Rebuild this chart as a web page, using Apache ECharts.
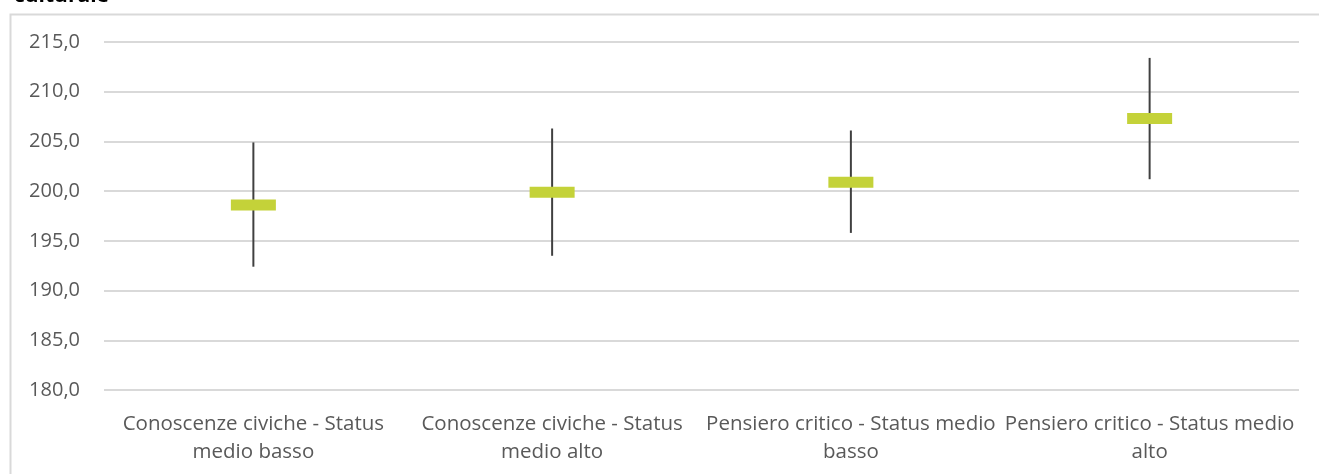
<!DOCTYPE html>
<html>
<head>
<meta charset="utf-8">
<script src="https://cdn.jsdelivr.net/npm/echarts@6/dist/echarts.min.js"></script>
<style>
  html, body { margin: 0; padding: 0; background: #fff; }
</style>
</head>
<body>
<div id="chart_status" style="width:1319px; height:474px"></div>
<script>
// categorie e valori
var categories = [
  "Conoscenze civiche - Status medio basso",
  "Conoscenze civiche - Status medio alto",
  "Pensiero critico - Status medio basso",
  "Pensiero critico - Status medio alto"
];
var tickLabels = [
  "Conoscenze civiche - Status\nmedio basso",
  "Conoscenze civiche - Status\nmedio alto",
  "Pensiero critico - Status medio\nbasso",
  "Pensiero critico - Status medio\nalto"
];
var meanValues = [198.6, 199.9, 200.9, 207.3];
var lowValues = [192.4, 193.5, 195.8, 201.2];
var highValues = [204.9, 206.3, 206.1, 213.4];

var fontName = "'Open Sans', 'Noto Sans', sans-serif";

var myChart = echarts.init(document.getElementById("chart_status"));

var whiskerData = categories.map(function (c, i) {
  return [i, lowValues[i], highValues[i]];
});

myChart.setOption({
  animation: false,
  title: {
    text: "culturale",
    left: 9,
    top: -19,
    textStyle: {
      fontFamily: fontName,
      fontSize: 21,
      fontWeight: "bold",
      color: "#000"
    }
  },
  graphic: [
    {
      type: "rect",
      left: 8,
      top: 12,
      shape: { width: 1330, height: 500 },
      style: { fill: "none", stroke: "#d9d9d9", lineWidth: 2 },
      silent: true
    }
  ],
  grid: {
    left: 104,
    right: 20,
    top: 42,
    bottom: 84
  },
  xAxis: {
    type: "category",
    data: categories,
    axisLine: { show: false },
    axisTick: { show: false },
    axisLabel: {
      interval: 0,
      margin: 20,
      fontFamily: fontName,
      fontSize: 20.5,
      lineHeight: 28,
      color: "#595959",
      formatter: function (val, idx) {
        return tickLabels[idx];
      }
    }
  },
  yAxis: {
    type: "value",
    min: 180,
    max: 215,
    interval: 5,
    axisLine: { show: false },
    axisTick: { show: false },
    splitLine: {
      show: true,
      lineStyle: { color: "#d9d9d9", width: 2 }
    },
    axisLabel: {
      margin: 24,
      fontFamily: fontName,
      fontSize: 20,
      color: "#595959",
      formatter: function (val) {
        return val.toFixed(1).replace(".", ",");
      }
    }
  },
  series: [
    {
      name: "intervallo",
      type: "custom",
      data: whiskerData,
      renderItem: function (params, api) {
        var x = api.value(0);
        var lo = api.coord([x, api.value(1)]);
        var hi = api.coord([x, api.value(2)]);
        return {
          type: "line",
          shape: { x1: lo[0], y1: lo[1], x2: hi[0], y2: hi[1] },
          style: { stroke: "#404040", lineWidth: 2 }
        };
      },
      z: 2
    },
    {
      name: "media",
      type: "scatter",
      symbol: "rect",
      symbolSize: [45, 11],
      itemStyle: { color: "#c4d239", opacity: 1 },
      data: meanValues,
      z: 3
    }
  ]
});
</script>
</body>
</html>
